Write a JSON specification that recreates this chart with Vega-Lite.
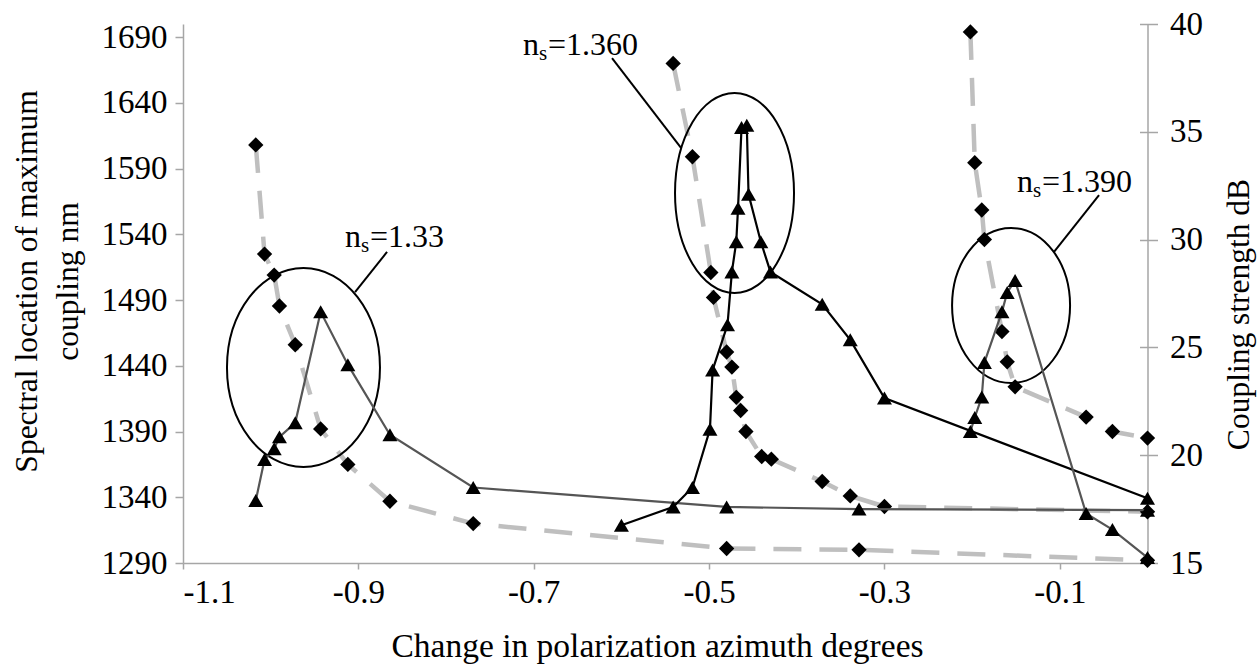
{
  "$schema": "https://vega.github.io/schema/vega-lite/v6.json",
  "width": 964.5,
  "height": 539,
  "autosize": {"type": "none"},
  "padding": {"left": 183, "top": 24, "right": 110.5, "bottom": 102},
  "background": "white",
  "config": {
    "view": {"stroke": null},
    "font": "Liberation Serif",
    "axis": {
      "grid": false,
      "domainColor": "#a6a6a6",
      "tickColor": "#a6a6a6",
      "domainWidth": 1.5,
      "tickWidth": 1.5,
      "labelFont": "Liberation Serif",
      "labelFontSize": 33,
      "labelColor": "#000000",
      "titleFont": "Liberation Serif",
      "titleFontSize": 33,
      "titleFontWeight": "normal",
      "titleColor": "#000000"
    }
  },
  "datasets": {
    "diamonds": [
      {"series": "1.33", "x": -1.017, "nm": 1608},
      {"series": "1.33", "x": -1.007, "nm": 1525},
      {"series": "1.33", "x": -0.996, "nm": 1509},
      {"series": "1.33", "x": -0.990, "nm": 1485.5},
      {"series": "1.33", "x": -0.972, "nm": 1456},
      {"series": "1.33", "x": -0.943, "nm": 1392},
      {"series": "1.33", "x": -0.912, "nm": 1365},
      {"series": "1.33", "x": -0.864, "nm": 1337},
      {"series": "1.33", "x": -0.769, "nm": 1320},
      {"series": "1.33", "x": -0.480, "nm": 1301},
      {"series": "1.33", "x": -0.329, "nm": 1300},
      {"series": "1.33", "x": 0, "nm": 1292},
      {"series": "1.360", "x": -0.541, "nm": 1670},
      {"series": "1.360", "x": -0.519, "nm": 1599},
      {"series": "1.360", "x": -0.498, "nm": 1511},
      {"series": "1.360", "x": -0.495, "nm": 1492},
      {"series": "1.360", "x": -0.480, "nm": 1450.5},
      {"series": "1.360", "x": -0.474, "nm": 1439},
      {"series": "1.360", "x": -0.469, "nm": 1416},
      {"series": "1.360", "x": -0.464, "nm": 1406},
      {"series": "1.360", "x": -0.458, "nm": 1390},
      {"series": "1.360", "x": -0.440, "nm": 1371},
      {"series": "1.360", "x": -0.429, "nm": 1369},
      {"series": "1.360", "x": -0.371, "nm": 1352},
      {"series": "1.360", "x": -0.339, "nm": 1341},
      {"series": "1.360", "x": -0.300, "nm": 1333},
      {"series": "1.360", "x": 0, "nm": 1329},
      {"series": "1.390", "x": -0.202, "nm": 1694},
      {"series": "1.390", "x": -0.197, "nm": 1594.5},
      {"series": "1.390", "x": -0.189, "nm": 1558.5},
      {"series": "1.390", "x": -0.186, "nm": 1536},
      {"series": "1.390", "x": -0.166, "nm": 1466},
      {"series": "1.390", "x": -0.160, "nm": 1443},
      {"series": "1.390", "x": -0.151, "nm": 1424},
      {"series": "1.390", "x": -0.070, "nm": 1401},
      {"series": "1.390", "x": -0.040, "nm": 1390},
      {"series": "1.390", "x": 0, "nm": 1385}
    ],
    "triangles": [
      {"series": "1.33", "x": -1.017, "dB": 17.9},
      {"series": "1.33", "x": -1.007, "dB": 19.8},
      {"series": "1.33", "x": -0.996, "dB": 20.3},
      {"series": "1.33", "x": -0.990, "dB": 20.85},
      {"series": "1.33", "x": -0.972, "dB": 21.5},
      {"series": "1.33", "x": -0.943, "dB": 26.65},
      {"series": "1.33", "x": -0.912, "dB": 24.2},
      {"series": "1.33", "x": -0.864, "dB": 20.95},
      {"series": "1.33", "x": -0.769, "dB": 18.5},
      {"series": "1.33", "x": -0.480, "dB": 17.6},
      {"series": "1.33", "x": -0.329, "dB": 17.5},
      {"series": "1.33", "x": 0, "dB": 17.45},
      {"series": "1.360", "x": -0.600, "dB": 16.75},
      {"series": "1.360", "x": -0.541, "dB": 17.6},
      {"series": "1.360", "x": -0.519, "dB": 18.5},
      {"series": "1.360", "x": -0.499, "dB": 21.2},
      {"series": "1.360", "x": -0.496, "dB": 23.95},
      {"series": "1.360", "x": -0.479, "dB": 26.05},
      {"series": "1.360", "x": -0.474, "dB": 28.5},
      {"series": "1.360", "x": -0.469, "dB": 29.9},
      {"series": "1.360", "x": -0.467, "dB": 31.45},
      {"series": "1.360", "x": -0.463, "dB": 35.2},
      {"series": "1.360", "x": -0.457, "dB": 35.3},
      {"series": "1.360", "x": -0.455, "dB": 32.1},
      {"series": "1.360", "x": -0.441, "dB": 29.9},
      {"series": "1.360", "x": -0.430, "dB": 28.5},
      {"series": "1.360", "x": -0.371, "dB": 27.0},
      {"series": "1.360", "x": -0.339, "dB": 25.35},
      {"series": "1.360", "x": -0.300, "dB": 22.65},
      {"series": "1.360", "x": 0, "dB": 18.0},
      {"series": "1.390", "x": -0.202, "dB": 21.1},
      {"series": "1.390", "x": -0.197, "dB": 21.75},
      {"series": "1.390", "x": -0.189, "dB": 22.7},
      {"series": "1.390", "x": -0.186, "dB": 24.3},
      {"series": "1.390", "x": -0.166, "dB": 26.65},
      {"series": "1.390", "x": -0.160, "dB": 27.55},
      {"series": "1.390", "x": -0.151, "dB": 28.1},
      {"series": "1.390", "x": -0.070, "dB": 17.3},
      {"series": "1.390", "x": -0.040, "dB": 16.55},
      {"series": "1.390", "x": 0, "dB": 15.25}
    ],
    "leaders": [
      {"x": -0.8673, "nm": 1526.6, "x2": -0.9038, "nm2": 1496.1},
      {"x": -0.6107, "nm": 1674.1, "x2": -0.532, "nm2": 1605.7},
      {"x": -0.0553, "nm": 1569.9, "x2": -0.1066, "nm2": 1526.6}
    ],
    "labels": [
      {"x": -0.9152, "nm": 1530.4, "val": "=1.33"},
      {"x": -0.7122, "nm": 1676.4, "val": "=1.360"},
      {"x": -0.1488, "nm": 1572.2, "val": "=1.390"}
    ]
  },
  "encoding": {
    "x": {
      "field": "x", "type": "quantitative",
      "scale": {"domain": [-1.1, 0], "nice": false, "zero": false},
      "axis": {
        "values": [-1.1, -0.9, -0.7, -0.5, -0.3, -0.1],
        "labelExpr": "'' + datum.value",
        "labelFont": "Liberation Serif", "titleFont": "Liberation Serif",
        "tickSize": 6, "labelPadding": 7,
        "title": "Change in polarization azimuth degrees",
        "titleFontSize": 33.5,
        "titleX": 474, "titleY": 93, "titleBaseline": "alphabetic", "titleAlign": "center"
      }
    }
  },
  "layer": [
    {
      "encoding": {
        "y": {
          "field": "nm", "type": "quantitative",
          "scale": {"domain": [1290, 1700], "nice": false, "zero": false},
          "axis": {
            "orient": "left",
            "values": [1290, 1340, 1390, 1440, 1490, 1540, 1590, 1640, 1690],
            "format": "d",
            "labelFont": "Liberation Serif", "titleFont": "Liberation Serif",
            "tickSize": 8, "labelPadding": 8,
            "title": ["Spectral location of maximum", "coupling nm"],
            "titleFontSize": 31.5,
            "titleAngle": 270, "titleX": -156, "titleY": 257,
            "titleBaseline": "middle", "titleAlign": "center", "titleLineHeight": 41
          }
        }
      },
      "layer": [
        {
          "data": {"name": "diamonds"},
          "mark": {"type": "line", "color": "#bfbfbf", "strokeWidth": 4.5, "strokeDash": [28, 18]},
          "encoding": {"detail": {"field": "series"}}
        },
        {
          "data": {"name": "diamonds"},
          "mark": {"type": "point", "shape": "diamond", "filled": true, "color": "#000000", "opacity": 1, "size": 235}
        },
        {
          "data": {"values": [{"x": -0.9626, "nm": 1438.7}]},
          "mark": {"type": "point", "shape": "M1,0C1,0.7184 0.5523,1.3007 0,1.3007C-0.5523,1.3007 -1,0.7184 -1,0C-1,-0.7184 -0.5523,-1.3007 0,-1.3007C0.5523,-1.3007 1,-0.7184 1,0Z", "filled": false, "stroke": "#000000", "strokeWidth": 2, "opacity": 1, "size": 23409}
        },
        {
          "data": {"values": [{"x": -0.471, "nm": 1571.5}]},
          "mark": {"type": "point", "shape": "M1,0C1,0.9284 0.5523,1.681 0,1.681C-0.5523,1.681 -1,0.9284 -1,0C-1,-0.9284 -0.5523,-1.681 0,-1.681C0.5523,-1.681 1,-0.9284 1,0Z", "filled": false, "stroke": "#000000", "strokeWidth": 2, "opacity": 1, "size": 14161}
        },
        {
          "data": {"values": [{"x": -0.1556, "nm": 1485.9}]},
          "mark": {"type": "point", "shape": "M1,0C1,0.7255 0.5523,1.3136 0,1.3136C-0.5523,1.3136 -1,0.7255 -1,0C-1,-0.7255 -0.5523,-1.3136 0,-1.3136C0.5523,-1.3136 1,-0.7255 1,0Z", "filled": false, "stroke": "#000000", "strokeWidth": 2, "opacity": 1, "size": 13924}
        },
        {
          "data": {"name": "leaders"},
          "mark": {"type": "rule", "color": "#000000", "strokeWidth": 2},
          "encoding": {"x2": {"field": "x2"}, "y2": {"field": "nm2"}}
        },
        {
          "data": {"name": "labels"},
          "mark": {"type": "text", "align": "left", "baseline": "alphabetic", "font": "Liberation Serif", "fontSize": 32, "color": "#000000"},
          "encoding": {"text": {"value": "n"}}
        },
        {
          "data": {"name": "labels"},
          "mark": {"type": "text", "align": "left", "baseline": "alphabetic", "font": "Liberation Serif", "fontSize": 21, "color": "#000000", "dx": 16, "dy": 5},
          "encoding": {"text": {"value": "s"}}
        },
        {
          "data": {"name": "labels"},
          "mark": {"type": "text", "align": "left", "baseline": "alphabetic", "font": "Liberation Serif", "fontSize": 32, "color": "#000000", "dx": 25},
          "encoding": {"text": {"field": "val"}}
        }
      ]
    },
    {
      "data": {"name": "triangles"},
      "encoding": {
        "y": {
          "field": "dB", "type": "quantitative",
          "scale": {"domain": [15, 40], "nice": false, "zero": false},
          "axis": {
            "orient": "right",
            "values": [15, 20, 25, 30, 35, 40],
            "labelFont": "Liberation Serif", "titleFont": "Liberation Serif",
            "tickSize": 10, "labelPadding": 12,
            "title": "Coupling strength dB",
            "titleFontSize": 31.5,
            "titleAngle": 270, "titleX": 101, "titleY": 290,
            "titleBaseline": "alphabetic", "titleAlign": "center"
          }
        }
      },
      "layer": [
        {
          "mark": {"type": "line", "strokeWidth": 2.2},
          "encoding": {
            "color": {"field": "series", "type": "nominal", "scale": {"domain": ["1.33", "1.360", "1.390"], "range": ["#555555", "#000000", "#555555"]}, "legend": null}
          }
        },
        {
          "mark": {"type": "point", "shape": "triangle-up", "filled": true, "color": "#000000", "opacity": 1, "size": 225}
        }
      ]
    },
    {
      "data": {"name": "triangles"},
      "mark": {"type": "point", "opacity": 0},
      "encoding": {
        "y": {
          "field": "dB", "type": "quantitative",
          "scale": {"domain": [15, 40], "nice": false, "zero": false},
          "axis": {
            "orient": "right",
            "values": [15, 20, 25, 30, 35, 40],
            "offset": -8,
            "tickSize": 8,
            "domain": false,
            "labels": false,
            "title": null
          }
        }
      }
    }
  ],
  "resolve": {"scale": {"y": "independent"}}
}
